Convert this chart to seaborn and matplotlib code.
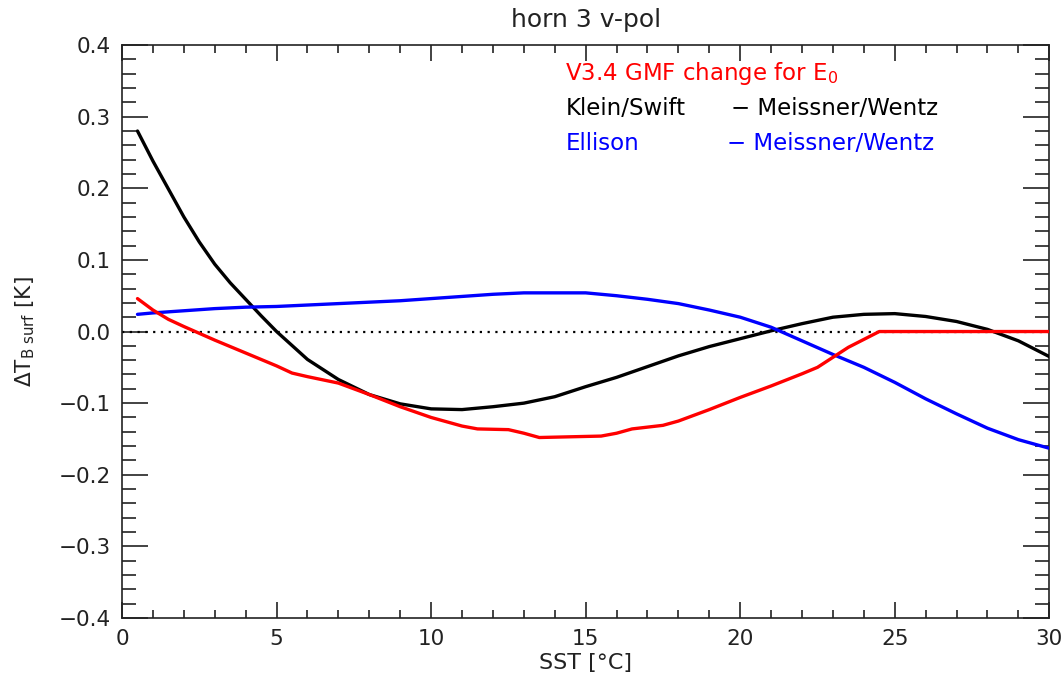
import matplotlib
matplotlib.use("Agg")
import matplotlib.pyplot as plt
import seaborn as sns
import numpy as np
from matplotlib.ticker import MultipleLocator, FuncFormatter

black_x = [0.5, 1, 1.5, 2, 2.5, 3, 3.5, 4, 4.5, 5, 6, 7, 8, 9, 10, 11, 12, 13, 14, 15,
           16, 17, 18, 19, 20, 21, 22, 23, 24, 25, 26, 27, 28, 29, 30]
black_y = [0.28, 0.238, 0.199, 0.160, 0.125, 0.094, 0.068, 0.045, 0.022, 0.0, -0.039, -0.067,
           -0.088, -0.101, -0.108, -0.109, -0.105, -0.100, -0.091, -0.077, -0.064, -0.049,
           -0.034, -0.021, -0.010, 0.001, 0.011, 0.020, 0.024, 0.025, 0.021, 0.014, 0.003,
           -0.013, -0.035]

blue_x = [0.5, 1, 2, 3, 4, 5, 6, 7, 8, 9, 10, 11, 12, 13, 14, 15, 16, 17, 18, 19, 20,
          21, 22, 23, 24, 25, 26, 27, 28, 29, 30]
blue_y = [0.024, 0.026, 0.029, 0.032, 0.034, 0.035, 0.037, 0.039, 0.041, 0.043, 0.046,
          0.049, 0.052, 0.054, 0.054, 0.054, 0.050, 0.045, 0.039, 0.030, 0.020, 0.006,
          -0.013, -0.032, -0.050, -0.071, -0.094, -0.115, -0.135, -0.151, -0.163]

red_x = [0.5, 1, 1.5, 2, 3, 4, 5, 5.5, 6, 7, 8, 9, 10, 11, 11.5, 12.5, 13, 13.5, 15.5,
         16, 16.5, 17.5, 18, 19, 20, 21, 22, 22.5, 23, 23.5, 24, 24.5, 25, 26, 27, 28,
         29, 30]
red_y = [0.046, 0.030, 0.017, 0.007, -0.012, -0.030, -0.048, -0.058, -0.063, -0.072,
         -0.088, -0.105, -0.120, -0.132, -0.136, -0.137, -0.142, -0.148, -0.146, -0.142,
         -0.136, -0.131, -0.125, -0.109, -0.092, -0.076, -0.059, -0.050, -0.036, -0.022,
         -0.011, 0.0, 0.0, 0.0, 0.0, 0.0, 0.0, 0.0]

legend_left = ["V3.4 GMF change for E$_0$", "Klein/Swift", "Ellison"]
legend_right = ["", "\u2212 Meissner/Wentz", "\u2212 Meissner/Wentz"]

sns.set_style("white")
plt.rcParams["font.family"] = ["DejaVu Sans"]

fig = plt.figure(figsize=(10.64, 6.83), dpi=100)
ax = fig.add_axes([0.1147, 0.0952, 0.8715, 0.8388])

ax.axhline(0, color="black", lw=1.6, ls=(0, (1, 2.5)), zorder=1)
sns.lineplot(x=black_x, y=black_y, ax=ax, color="black", lw=2.4, zorder=3)
sns.lineplot(x=blue_x, y=blue_y, ax=ax, color="#0000ff", lw=2.4, zorder=3)
sns.lineplot(x=red_x, y=red_y, ax=ax, color="#ff0000", lw=2.4, zorder=4)

ax.set_xlim(0, 30)
ax.set_ylim(-0.4, 0.4)
ax.xaxis.set_major_locator(MultipleLocator(5))
ax.xaxis.set_minor_locator(MultipleLocator(1))
ax.yaxis.set_major_locator(MultipleLocator(0.1))
ax.yaxis.set_minor_locator(MultipleLocator(0.02))
ax.yaxis.set_major_formatter(FuncFormatter(
    lambda v, p: ("%.1f" % v).replace("-", "\u2212") if abs(v) > 1e-9 else "0.0"))
ax.tick_params(which="both", direction="in", top=True, right=True, bottom=True,
               left=True, colors="#222222", labelsize=15.5, width=1.2)
ax.tick_params(axis="x", which="major", length=11.5, pad=8)
ax.tick_params(axis="x", which="minor", length=6)
ax.tick_params(axis="y", which="major", length=18.5, pad=8)
ax.tick_params(axis="y", which="minor", length=10)
for s in ax.spines.values():
    s.set_linewidth(1.2)
    s.set_color("#222222")

ax.set_title("horn 3 v-pol", fontsize=18, pad=13, color="#222222")
ax.set_xlabel("SST [\u00b0C]", fontsize=16, labelpad=3, color="#222222")
ax.set_ylabel("\u0394T$_{\\rm B\\ surf}$ [K]", fontsize=15.5, color="#222222")
ax.yaxis.set_label_coords(-0.092, 0.5)

cols = ["#ff0000", "black", "#0000ff"]
ys = [0.951, 0.890, 0.829]
xr = [0.0, 0.657, 0.652]
for l, r, c, yy, x2 in zip(legend_left, legend_right, cols, ys, xr):
    ax.text(0.478, yy, l, transform=ax.transAxes, color=c, fontsize=16.5,
            ha="left", va="center")
    if r:
        ax.text(x2, yy, r, transform=ax.transAxes, color=c, fontsize=16.5,
                ha="left", va="center")

fig.savefig("out.png", dpi=100)
